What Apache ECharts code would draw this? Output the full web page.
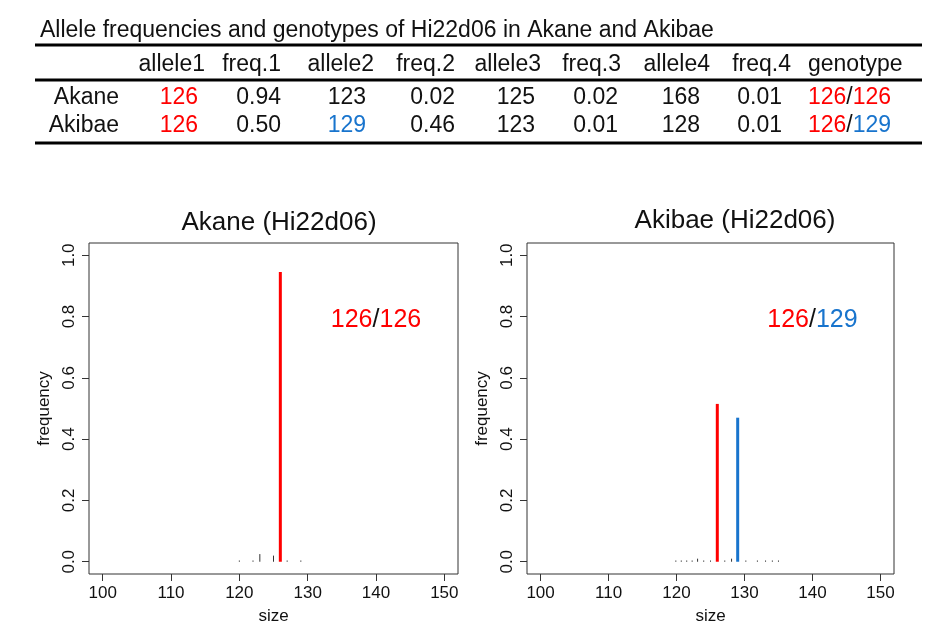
<!DOCTYPE html>
<html>
<head>
<meta charset="utf-8">
<script src="https://cdn.jsdelivr.net/npm/echarts@6/dist/echarts.min.js"></script>
<style>
  html, body { margin: 0; padding: 0; background: #fff; }
  #main { width: 929px; height: 639px; }
</style>
</head>
<body>
<div id="main"></div>
<script>
// 表格数据
var tableTitle = 'Allele frequencies and genotypes of Hi22d06 in Akane and Akibae';
var headers = ['allele1', 'freq.1', 'allele2', 'freq.2', 'allele3', 'freq.3', 'allele4', 'freq.4', 'genotype'];
var samples = ['Akane', 'Akibae'];
var akaneAlleles = [126, 123, 125, 168];
var akaneFreqs = ['0.94', '0.02', '0.02', '0.01'];
var akaneGenotype = [126, 126];
var akibaeAlleles = [126, 129, 123, 128];
var akibaeFreqs = ['0.50', '0.46', '0.01', '0.01'];
var akibaeGenotype = [126, 129];

// 图形数据 (size / frequency)
var akaneSizes = [120, 122, 123, 125, 126, 127, 129];
var akaneFreq = [0.004, 0.004, 0.025, 0.02, 0.945, 0.004, 0.004];
var akibaeSizes = [119.9, 120.7, 121.5, 122.3, 123.1, 124, 125, 126, 127.1, 128.1, 129, 130.2, 131.9, 133.1, 134.1, 135];
var akibaeFreq = [0.004, 0.004, 0.004, 0.004, 0.01, 0.004, 0.004, 0.515, 0.004, 0.01, 0.47, 0.004, 0.004, 0.004, 0.004, 0.004];

var xTicks = [100, 110, 120, 130, 140, 150];
var yTicks = [0, 0.2, 0.4, 0.6, 0.8, 1.0];
var plotTitles = ['Akane (Hi22d06)', 'Akibae (Hi22d06)'];
var genoLabelPos = [140, 0.79];

var RED = '#FF0000', BLUE = '#1874CD', INK = '#111';
var FONT = 'Liberation Sans, Arial, Helvetica, sans-serif';

// 基因型等位基因着色：第一个红色，第二个（不同时）蓝色
function alleleColor(a, geno) {
    if (a === geno[0]) return RED;
    if (a === geno[1]) return BLUE;
    return INK;
}

// ---- 表格 ----
var headerRight = [205, 281, 374, 455, 541, 621, 710, 791];
var valueRight = [198, 281, 366, 455, 535, 618, 700, 782];
var genoLeft = 808;
var rowY = [98, 126];
var g = [];
function txt(x, y, s, align, color, size) {
    g.push({
        type: 'text', x: x, y: y,
        style: {text: s, fill: color || INK, font: (size || 23) + 'px ' + FONT, textAlign: align || 'right', textVerticalAlign: 'middle'}
    });
}
function hline(y) {
    g.push({type: 'line', shape: {x1: 35, y1: y, x2: 922, y2: y}, style: {stroke: '#000', lineWidth: 3}});
}
txt(40, 31, tableTitle, 'left', INK, 23);
hline(45);
hline(80);
hline(143);
for (var i = 0; i < 8; i++) txt(headerRight[i], 65, headers[i]);
txt(genoLeft, 65, headers[8], 'left');

var rows = [
    {alleles: akaneAlleles, freqs: akaneFreqs, geno: akaneGenotype},
    {alleles: akibaeAlleles, freqs: akibaeFreqs, geno: akibaeGenotype}
];
rows.forEach(function (r, ri) {
    var y = rowY[ri];
    txt(119, y, samples[ri], 'right');
    for (var k = 0; k < 4; k++) {
        txt(valueRight[k * 2], y, String(r.alleles[k]), 'right', alleleColor(r.alleles[k], r.geno));
        txt(valueRight[k * 2 + 1], y, r.freqs[k], 'right');
    }
    g.push({
        type: 'text', x: genoLeft, y: y,
        style: {
            text: '{a|' + r.geno[0] + '}{s|/}{b|' + r.geno[1] + '}',
            font: '23px ' + FONT, textAlign: 'left', textVerticalAlign: 'middle',
            rich: {
                a: {fill: alleleColor(r.geno[0], r.geno), font: '23px ' + FONT},
                s: {fill: INK, font: '23px ' + FONT},
                b: {fill: alleleColor(r.geno[1], r.geno), font: '23px ' + FONT}
            }
        }
    });
});

// ---- 图 ----
function stemData(sizes, freqs, geno) {
    var out = [];
    for (var i = 0; i < sizes.length; i++) {
        var c = (sizes[i] === geno[0] || sizes[i] === geno[1]) ? alleleColor(sizes[i], geno) : '';
        out.push({value: [sizes[i], freqs[i]], color: c});
    }
    return out;
}
function renderStem(params, api) {
    var base = api.coord([api.value(0), 0]);
    var top = api.coord([api.value(0), api.value(1)]);
    var d = params.dataIndex;
    var item = params.seriesIndex === 0 ? stemsA[d] : stemsB[d];
    return {
        type: 'line',
        shape: {x1: base[0], y1: base[1], x2: top[0], y2: top[1]},
        style: {stroke: item.color || '#333', lineWidth: item.color ? 3 : 1}
    };
}
var stemsA = stemData(akaneSizes, akaneFreq, akaneGenotype);
var stemsB = stemData(akibaeSizes, akibaeFreq, akibaeGenotype);

function xAxisOf(idx) {
    return {
        gridIndex: idx, type: 'value', min: 98, max: 152,
        name: 'size', nameLocation: 'middle', nameGap: 34,
        nameTextStyle: {fontSize: 17, color: INK, fontFamily: FONT},
        axisLine: {show: false, onZero: false},
        axisTick: {show: true, length: 7, customValues: xTicks, lineStyle: {color: '#333'}},
        axisLabel: {customValues: xTicks, fontSize: 17, color: INK, fontFamily: FONT, margin: 11},
        splitLine: {show: false}
    };
}
function yAxisOf(idx) {
    return {
        gridIndex: idx, type: 'value', min: -0.04, max: 1.04,
        name: 'frequency', nameLocation: 'middle', nameGap: 36, nameRotate: 90,
        nameTextStyle: {fontSize: 17, color: INK, fontFamily: FONT},
        axisLine: {show: false, onZero: false},
        axisTick: {show: true, length: 7, customValues: yTicks, lineStyle: {color: '#333'}},
        axisLabel: {
            customValues: yTicks, rotate: 90, fontSize: 17, color: INK, fontFamily: FONT, margin: 11,
            formatter: function (v) { return v.toFixed(1); }
        },
        splitLine: {show: false}
    };
}
function genoLabel(idx, geno) {
    return {
        type: 'scatter', xAxisIndex: idx, yAxisIndex: idx,
        data: [genoLabelPos], symbolSize: 0, silent: true,
        itemStyle: {opacity: 1},
        label: {
            show: true, position: 'inside', opacity: 1,
            formatter: '{a|' + geno[0] + '}{s|/}{b|' + geno[1] + '}',
            rich: {
                a: {color: alleleColor(geno[0], geno), fontSize: 25, fontFamily: FONT},
                s: {color: INK, fontSize: 25, fontFamily: FONT},
                b: {color: alleleColor(geno[1], geno), fontSize: 25, fontFamily: FONT}
            }
        }
    };
}

var chart = echarts.init(document.getElementById('main'));
chart.setOption({
    backgroundColor: '#fff',
    animation: false,
    title: [
        {text: plotTitles[0], left: 274, top: 205, textAlign: 'center',
            textStyle: {fontSize: 26, fontWeight: 'normal', color: INK, fontFamily: FONT}},
        {text: plotTitles[1], left: 730, top: 203, textAlign: 'center',
            textStyle: {fontSize: 26, fontWeight: 'normal', color: INK, fontFamily: FONT}}
    ],
    grid: [
        {left: 89, top: 243, width: 369, height: 331, show: true, borderColor: '#333', borderWidth: 1, backgroundColor: 'transparent'},
        {left: 527, top: 243, width: 367, height: 331, show: true, borderColor: '#333', borderWidth: 1, backgroundColor: 'transparent'}
    ],
    xAxis: [xAxisOf(0), xAxisOf(1)],
    yAxis: [yAxisOf(0), yAxisOf(1)],
    series: [
        {type: 'custom', xAxisIndex: 0, yAxisIndex: 0, renderItem: renderStem, data: stemsA.map(function (s) { return s.value; })},
        {type: 'custom', xAxisIndex: 1, yAxisIndex: 1, renderItem: renderStem, data: stemsB.map(function (s) { return s.value; })},
        genoLabel(0, akaneGenotype),
        genoLabel(1, akibaeGenotype)
    ],
    graphic: g
});
</script>
</body>
</html>
